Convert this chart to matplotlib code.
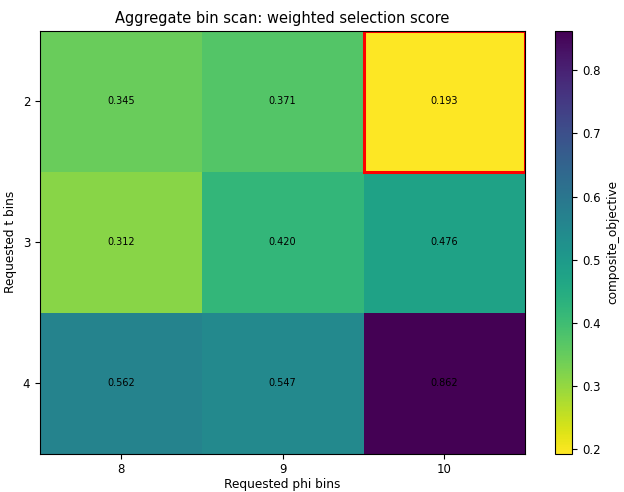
import numpy as np
import matplotlib
matplotlib.use("Agg")
import matplotlib.pyplot as plt
from matplotlib.patches import Rectangle

# --- データ ---
phi_bins = [8, 9, 10]
t_bins = [2, 3, 4]
scores = [
    [0.345, 0.371, 0.193],
    [0.312, 0.420, 0.476],
    [0.562, 0.547, 0.862],
]

Z = np.array(scores)

fig = plt.figure(figsize=(6.24, 4.92), dpi=100)
ax = fig.add_axes([0.064, 0.078, 0.778, 0.859])
cax = fig.add_axes([0.889, 0.078, 0.028, 0.859])

im = ax.imshow(Z, cmap="viridis_r", aspect="auto")
ax.set_xticks(range(len(phi_bins)))
ax.set_xticklabels([str(v) for v in phi_bins])
ax.set_yticks(range(len(t_bins)))
ax.set_yticklabels([str(v) for v in t_bins])
ax.tick_params(labelsize=8.5)

for i in range(Z.shape[0]):
    for j in range(Z.shape[1]):
        ax.text(j, i, f"{Z[i, j]:.3f}", ha="center", va="center", fontsize=7, color="black")

# 最小値のセルを赤枠で強調
bi, bj = np.unravel_index(np.argmin(Z), Z.shape)
ax.add_patch(Rectangle((bj - 0.5, bi - 0.5), 1, 1, fill=False, edgecolor="red", lw=2.2))

ax.set_xlabel("Requested phi bins", fontsize=8.7, labelpad=1.5)
ax.set_ylabel("Requested t bins", fontsize=8.7)
ax.set_title("Aggregate bin scan: weighted selection score", fontsize=10.5)

cb = fig.colorbar(im, cax=cax)
cb.set_label("composite_objective", fontsize=8.7)
cb.ax.tick_params(labelsize=8.5)

fig.savefig("out.png", dpi=100)
